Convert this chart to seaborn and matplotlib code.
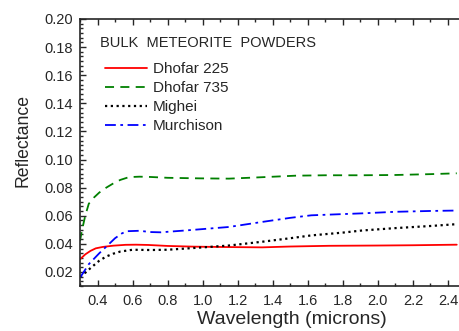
import numpy as np
import pandas as pd
import matplotlib
matplotlib.use("Agg")
import matplotlib.pyplot as plt
import seaborn as sns
from matplotlib.ticker import MultipleLocator, FormatStrFormatter

sns.set_style("ticks")
plt.rcParams['font.family'] = ['Liberation Sans', 'DejaVu Sans']

# Data
wl_d225 = [0.30, 0.33, 0.36, 0.39, 0.43, 0.49, 0.56, 0.62, 0.69, 0.80, 0.95, 1.15, 1.34, 1.50, 1.72, 2.00, 2.20, 2.45]
r_d225 = [0.0290, 0.0325, 0.0350, 0.0368, 0.0378, 0.0387, 0.0393, 0.0394, 0.0392, 0.0385, 0.0380, 0.0377, 0.0375, 0.0381, 0.0386, 0.0388, 0.0390, 0.0394]

wl_d735 = [0.30, 0.31, 0.33, 0.35, 0.38, 0.41, 0.45, 0.49, 0.53, 0.58, 0.64, 0.70, 0.80, 0.98, 1.15, 1.30, 1.53, 1.70, 1.91, 2.10, 2.30, 2.45]
r_d735 = [0.0420, 0.0490, 0.0600, 0.0685, 0.0730, 0.0765, 0.0800, 0.0830, 0.0855, 0.0875, 0.0878, 0.0876, 0.0870, 0.0866, 0.0864, 0.0872, 0.0885, 0.0888, 0.0888, 0.0890, 0.0896, 0.0902]

wl_mig = [0.30, 0.33, 0.37, 0.41, 0.45, 0.49, 0.53, 0.60, 0.70, 0.80, 0.98, 1.15, 1.34, 1.50, 1.62, 1.80, 1.91, 2.10, 2.30, 2.45]
r_mig = [0.0165, 0.0195, 0.0238, 0.0280, 0.0310, 0.0330, 0.0345, 0.0358, 0.0356, 0.0358, 0.0373, 0.0388, 0.0415, 0.0440, 0.0460, 0.0480, 0.0495, 0.0512, 0.0527, 0.0540]

wl_mur = [0.30, 0.31, 0.35, 0.41, 0.47, 0.50, 0.54, 0.57, 0.64, 0.70, 0.76, 0.90, 1.15, 1.34, 1.50, 1.62, 1.91, 2.10, 2.30, 2.45]
r_mur = [0.0160, 0.0178, 0.0255, 0.0333, 0.0404, 0.0440, 0.0475, 0.0490, 0.0493, 0.0484, 0.0482, 0.0495, 0.0520, 0.0556, 0.0585, 0.0603, 0.0617, 0.0628, 0.0634, 0.0637]

names = ["Dhofar 225", "Dhofar 735", "Mighei", "Murchison"]
legend_title = "BULK  METEORITE  POWDERS"
colors = ["#ff0000", "#008000", "#000000", "#0000ff"]
styles = ["-", (0, (5, 3.5)), (0, (1, 1.6)), (0, (6, 2.5, 1.5, 2.5))]
widths = [1.3, 1.3, 1.6, 1.3]

series = [(wl_d225, r_d225), (wl_d735, r_d735), (wl_mig, r_mig), (wl_mur, r_mur)]

W, H = 459, 331
fig = plt.figure(figsize=(W/100, H/100), dpi=100)
ax = fig.add_axes([80/W, 45/H, (465.5-80)/W, (286-19)/H])

for name, (x, y), c, ls, lw in zip(names, series, colors, styles, widths):
    df = pd.DataFrame({"Wavelength": x, "Reflectance": y})
    sns.lineplot(data=df, x="Wavelength", y="Reflectance", ax=ax, color=c,
                 linestyle=ls, linewidth=lw, label=name)

ax.set_xlim(0.3, 2.5)
ax.set_ylim(0.01, 0.20)
ax.xaxis.set_major_locator(MultipleLocator(0.2))
ax.xaxis.set_minor_locator(MultipleLocator(0.1))
ax.yaxis.set_major_locator(MultipleLocator(0.02))
ax.yaxis.set_minor_locator(MultipleLocator(0.02/6))
ax.xaxis.set_major_formatter(FormatStrFormatter('%.1f'))
ax.yaxis.set_major_formatter(FormatStrFormatter('%.2f'))

ax.tick_params(axis='both', which='both', direction='in', top=True, right=True,
               labelsize=10.5, width=1)
ax.tick_params(axis='x', which='both', pad=6)
ax.tick_params(axis='y', which='both', pad=5)
ax.tick_params(axis='both', which='major', length=4.5)
ax.tick_params(axis='both', which='minor', length=2.5)
for sp in ax.spines.values():
    sp.set_linewidth(1.2)

ax.set_xlabel("Wavelength (microns)", fontsize=14)
ax.set_ylabel("Reflectance", fontsize=12.7)
ax.xaxis.set_label_coords((291.5-80)/385.5, (286-320)/267)
ax.xaxis.label.set_va('center')
ax.yaxis.set_label_coords((23-80)/385.5, (286-140.5)/267)
ax.yaxis.label.set_va('center')

fig.text(100/W, 1-43/H, legend_title, fontsize=10.5, va='center', ha='left')
leg = ax.legend(loc='upper left', bbox_to_anchor=(105/W, 1-62/H),
                bbox_transform=fig.transFigure, frameon=False,
                fontsize=11, handlelength=2.75, handletextpad=0.4,
                labelspacing=0.33, borderaxespad=0, borderpad=0)

fig.savefig("out.png", dpi=100)
